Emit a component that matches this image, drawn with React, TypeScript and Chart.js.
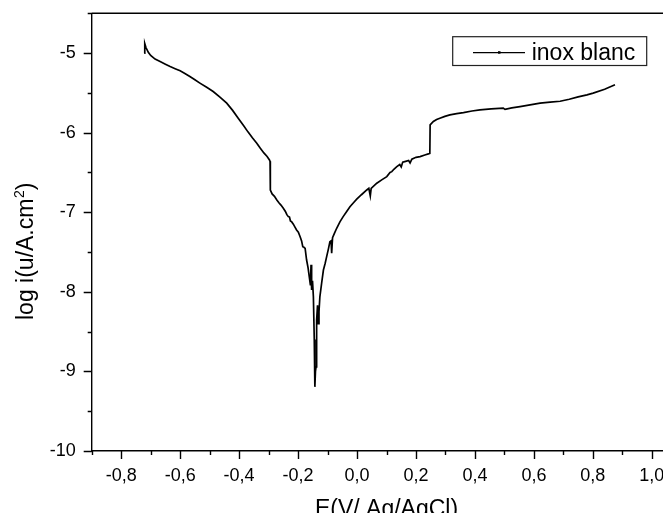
import React, { useEffect, useRef } from "react";
import { Chart, registerables } from "chart.js";

Chart.register(...registerables);

const seriesLabel = "inox blanc";
const xAxisTitle = "E(V/ Ag/AgCl)";
const yAxisTitleMain = "log i(u/A.cm";
const yAxisTitleSup = "2";
const yAxisTitleEnd = ")";

const potential = [
  -0.722, -0.72, -0.716, -0.708, -0.7, -0.685, -0.668, -0.65, -0.634, -0.617,
  -0.6, -0.584, -0.567, -0.55, -0.533, -0.51, -0.488, -0.465, -0.442, -0.422,
  -0.403, -0.385, -0.37, -0.355, -0.34, -0.328, -0.316, -0.305, -0.297, -0.295,
  -0.294, -0.288, -0.28, -0.272, -0.265, -0.258, -0.25, -0.243, -0.238, -0.233,
  -0.229, -0.226, -0.222, -0.216, -0.21, -0.205, -0.199, -0.193, -0.188, -0.184,
  -0.18, -0.176, -0.171, -0.166, -0.162, -0.158, -0.156, -0.154, -0.151, -0.148,
  -0.145, -0.143, -0.141, -0.139, -0.137, -0.134, -0.132, -0.129, -0.126, -0.12,
  -0.114, -0.108, -0.103, -0.097, -0.092, -0.088, -0.086, -0.083, -0.076, -0.069,
  -0.058, -0.047, -0.035, -0.024, -0.012, -0.001, 0.015, 0.033, 0.04, 0.045,
  0.048, 0.067, 0.085, 0.101, 0.112, 0.118, 0.125, 0.135, 0.145, 0.15,
  0.155, 0.165, 0.175, 0.18, 0.186, 0.2, 0.214, 0.23, 0.242, 0.247,
  0.248, 0.259, 0.27, 0.281, 0.298, 0.315, 0.338, 0.361, 0.39, 0.417,
  0.455, 0.496, 0.502, 0.525, 0.553, 0.587, 0.621, 0.655, 0.689, 0.72,
  0.75, 0.78, 0.801, 0.84, 0.875,
];

const logCurrent = [
  -5.0, -4.88, -4.93, -4.99, -5.03, -5.075, -5.106, -5.14, -5.169, -5.196,
  -5.223, -5.256, -5.294, -5.336, -5.377, -5.43, -5.483, -5.553, -5.629, -5.72,
  -5.818, -5.91, -5.99, -6.065, -6.132, -6.195, -6.254, -6.3, -6.342, -6.36,
  -6.72, -6.77, -6.8, -6.845, -6.88, -6.91, -6.95, -6.99, -7.03, -7.055,
  -7.06, -7.11, -7.118, -7.15, -7.19, -7.223, -7.25, -7.307, -7.36, -7.433,
  -7.44, -7.453, -7.6, -7.7, -7.81, -7.92, -7.66, -7.977, -7.86, -8.062,
  -8.6, -9.194, -9.0, -8.942, -8.355, -8.17, -8.4, -8.25, -8.062, -7.89,
  -7.726, -7.64, -7.558, -7.46, -7.37, -7.36, -7.516, -7.32, -7.26, -7.201,
  -7.12, -7.055, -6.99, -6.93, -6.88, -6.836, -6.78, -6.72, -6.7, -6.795,
  -6.7, -6.635, -6.59, -6.552, -6.5, -6.49, -6.46, -6.426, -6.4, -6.43,
  -6.37, -6.36, -6.35, -6.38, -6.333, -6.31, -6.301, -6.28, -6.267, -6.26,
  -5.902, -5.86, -5.835, -5.818, -5.795, -5.776, -5.76, -5.747, -5.728, -5.713,
  -5.7, -5.692, -5.707, -5.688, -5.672, -5.65, -5.629, -5.617, -5.605, -5.58,
  -5.55, -5.525, -5.503, -5.455, -5.399,
];

const xMin = -0.9;
const xMax = 1.1;
const xStep = 0.1;
const yMin = -10;
const yMax = -4.5;
const yStep = 0.5;

const FONT = "'Liberation Sans', Arial, Helvetica, sans-serif";

const originPlugin = {
  id: "originDecor",
  afterDraw(chart: any) {
    const { ctx, chartArea: a, scales } = chart;
    const xs = scales.x;
    const ys = scales.y;
    ctx.save();
    ctx.strokeStyle = "#000";
    ctx.lineWidth = 1.4;
    ctx.beginPath();
    ctx.moveTo(a.left, a.top);
    ctx.lineTo(chart.width, a.top);
    for (const t of xs.ticks) {
      const px = Math.round(xs.getPixelForValue(t.value)) + 0.5;
      const major = Math.round(t.value * 10) % 2 === 0;
      ctx.moveTo(px, a.bottom);
      ctx.lineTo(px, a.bottom + (major ? 8 : 4));
    }
    for (const t of ys.ticks) {
      const py = Math.round(ys.getPixelForValue(t.value)) + 0.5;
      const major = Math.abs(t.value - Math.round(t.value)) < 1e-6;
      ctx.moveTo(a.left, py);
      ctx.lineTo(a.left - (major ? 8 : 4), py);
    }
    ctx.stroke();

    // y-axis title with superscript
    ctx.fillStyle = "#000";
    ctx.translate(25.3, 312);
    ctx.rotate(-Math.PI / 2);
    ctx.textBaseline = "alphabetic";
    ctx.textAlign = "left";
    ctx.font = `23px ${FONT}`;
    ctx.fillText(yAxisTitleMain, 0, 0);
    let w = ctx.measureText(yAxisTitleMain).width;
    ctx.font = `14px ${FONT}`;
    ctx.fillText(yAxisTitleSup, w + 0.5, -9);
    w += ctx.measureText(yAxisTitleSup).width + 0.5;
    ctx.font = `23px ${FONT}`;
    ctx.fillText(yAxisTitleEnd, w, 0);
    ctx.restore();

    // legend
    ctx.save();
    const bx = 444.7, by = 28.7, bw = 194, bh = 28.8;
    ctx.strokeStyle = "#222";
    ctx.lineWidth = 1.2;
    ctx.strokeRect(bx, by, bw, bh);
    const ly = 44.7;
    ctx.strokeStyle = "#000";
    ctx.lineWidth = 1.2;
    ctx.beginPath();
    ctx.moveTo(465, ly);
    ctx.lineTo(517, ly);
    ctx.stroke();
    ctx.fillStyle = "#000";
    ctx.fillRect(490, ly - 1.5, 2.5, 2.5);
    ctx.font = `23px ${FONT}`;
    ctx.textBaseline = "middle";
    ctx.textAlign = "left";
    ctx.fillText(chart.data.datasets[0].label, 523.7, ly + 0.5);
    ctx.restore();
  },
};

function buildTicks(min: number, max: number, step: number) {
  const out: { value: number }[] = [];
  const n = Math.round((max - min) / step);
  for (let i = 0; i <= n; i++) out.push({ value: Math.round((min + i * step) * 1000) / 1000 });
  return out;
}

export default function App() {
  const ref = useRef<HTMLCanvasElement | null>(null);

  useEffect(() => {
    document.documentElement.style.overflow = "hidden";
    const canvas = ref.current;
    if (!canvas) return;
    const points = potential.map((e, i) => ({ x: e, y: logCurrent[i] }));
    const chart = new Chart(canvas, {
      type: "line",
      data: {
        datasets: [
          {
            label: seriesLabel,
            data: points,
            borderColor: "#000",
            backgroundColor: "#000",
            borderWidth: 1.7,
            pointRadius: 0,
            tension: 0,
            fill: false,
          },
        ],
      },
      options: {
        animation: false,
        responsive: false,
        devicePixelRatio: 1,
        layout: { padding: { left: 0, top: 5.3, right: 6.7, bottom: 0 } },
        plugins: {
          legend: { display: false },
          tooltip: { enabled: false },
        },
        scales: {
          x: {
            type: "linear",
            position: "bottom",
            min: xMin,
            max: xMax,
            afterBuildTicks: (s: any) => {
              s.ticks = buildTicks(xMin, xMax, xStep);
            },
            afterFit: (s: any) => {
              s.height = 70;
              s.paddingLeft = 0;
              s.paddingRight = 0;
              s.paddingTop = 0;
              s.paddingBottom = 0;
            },
            grid: { display: true, drawOnChartArea: false, drawTicks: false },
            border: { display: true, color: "#000", width: 1.4 },
            ticks: {
              autoSkip: false,
              maxRotation: 0,
              padding: 14,
              color: "#000",
              font: { family: FONT, size: 18 },
              callback: (v: any) => {
                const r = Math.round(Number(v) * 10);
                if (r % 2 !== 0 || r < -8 || r > 10) return "";
                return (r / 10).toFixed(1).replace(".", ",");
              },
            },
            title: {
              display: true,
              text: xAxisTitle,
              color: "#000",
              font: { family: FONT, size: 23, lineHeight: 0.96 },
              padding: { top: 0, bottom: 0 },
            },
          },
          y: {
            type: "linear",
            min: yMin,
            max: yMax,
            afterBuildTicks: (s: any) => {
              s.ticks = buildTicks(yMin, yMax, yStep);
            },
            afterFit: (s: any) => {
              s.width = 83.7;
              s.paddingLeft = 0;
              s.paddingRight = 0;
              s.paddingTop = 0;
              s.paddingBottom = 0;
            },
            grid: { display: true, drawOnChartArea: false, drawTicks: false },
            border: { display: true, color: "#000", width: 1.4 },
            ticks: {
              autoSkip: false,
              padding: 16,
              color: "#000",
              font: { family: FONT, size: 18 },
              callback: (v: any) => {
                const n = Number(v);
                if (Math.abs(n - Math.round(n)) > 1e-6) return "";
                return String(Math.round(n));
              },
            },
          },
        },
      },
      plugins: [originPlugin],
    } as any);
    return () => chart.destroy();
  }, []);

  return (
    <div style={{ width: 663, height: 513, overflow: "hidden", marginBottom: -8 }}>
      <canvas ref={ref} width={680} height={513} style={{ display: "block", width: 680, height: 513 }} />
    </div>
  );
}
